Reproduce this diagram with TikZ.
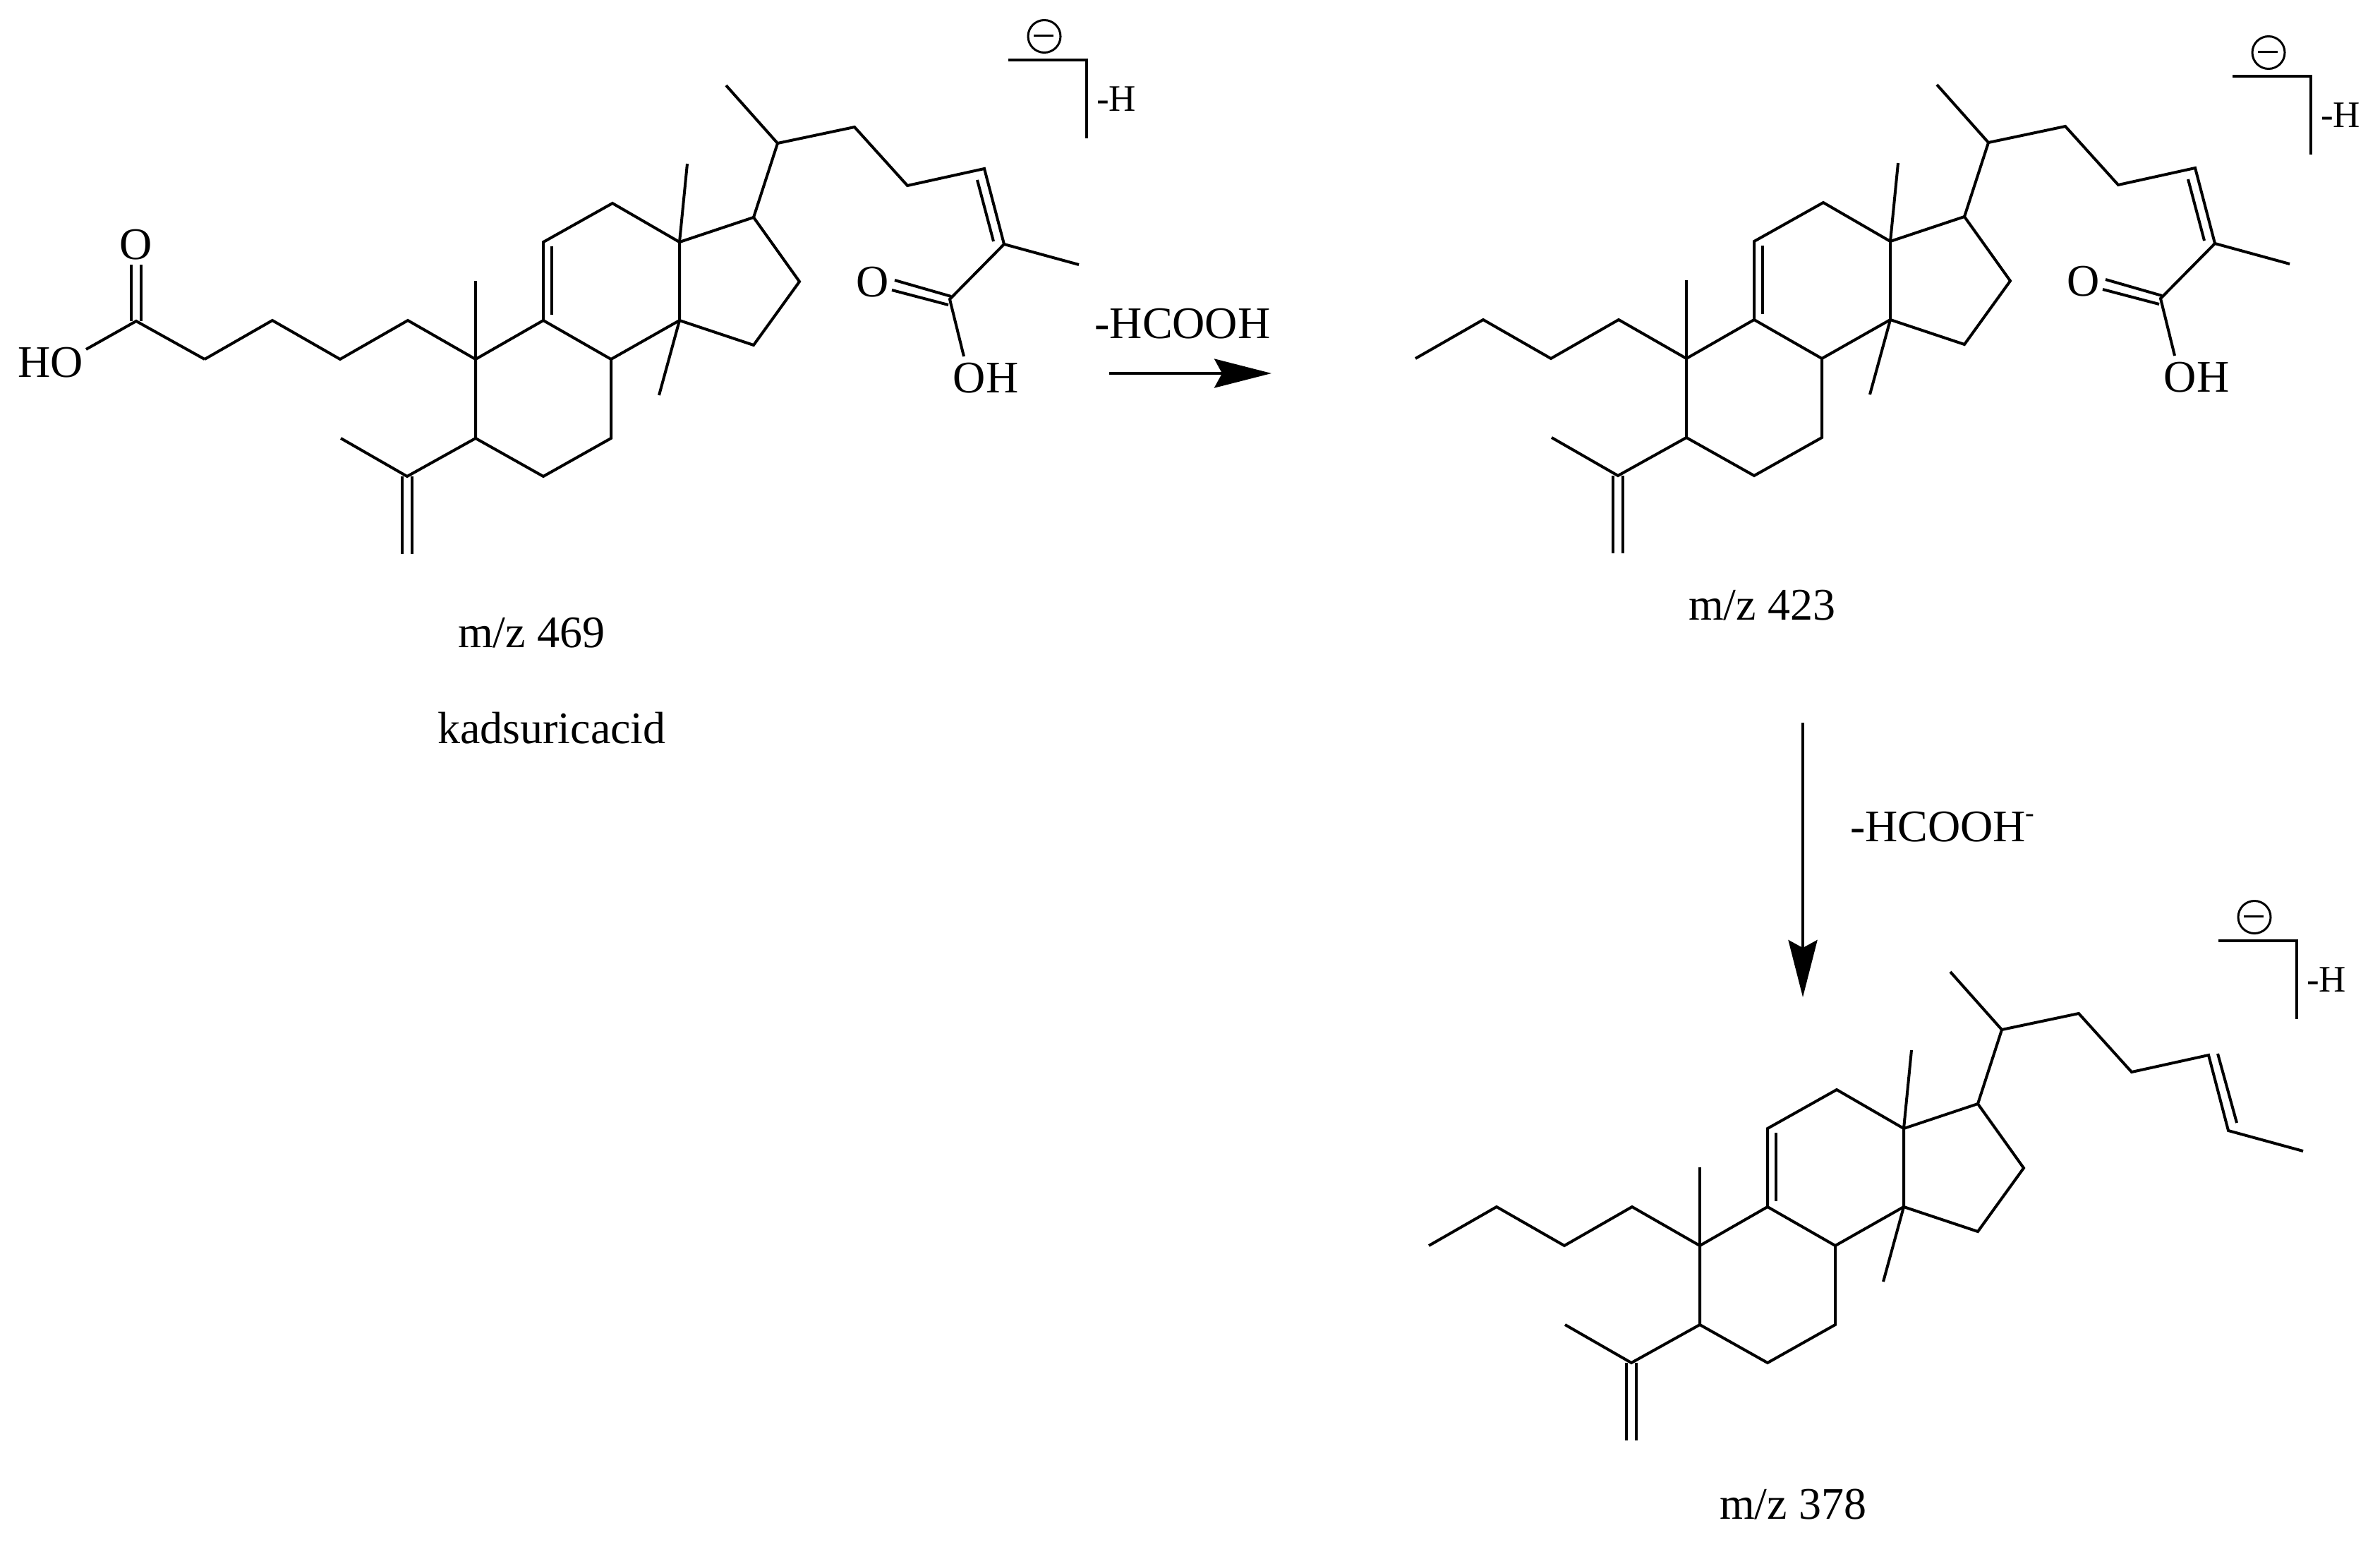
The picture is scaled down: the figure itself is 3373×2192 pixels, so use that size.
\documentclass[tikz,border=0pt]{standalone}
\usepackage{fontspec}
\setmainfont{Liberation Serif}
\usetikzlibrary{arrows.meta}
\tikzset{
  x=1pt,y=-1pt,
  bond/.style={line width=4pt,line join=miter,line cap=butt,black},
  heavy/.style={line width=4.4pt,line cap=butt,black},
  thin bond/.style={line width=3pt,black},
  label/.style={inner sep=0pt,outer sep=0pt,anchor=base,black,font=\fontsize{64}{70}\selectfont},
  small label/.style={label,font=\fontsize{53}{58}\selectfont},
  reaction/.style={line width=4pt,line cap=butt,black,-{Stealth[length=81pt,width=41pt,inset=11pt]}}
}
% carbon skeleton shared by all three structures
\newcommand{\skeleton}[1]{%
  \coordinate (#1a) at (290,509); \coordinate (#1b) at (386,454);
  \coordinate (#1c) at (482,509); \coordinate (#1d) at (578,454);
  \coordinate (#1q) at (674,509); \coordinate (#1qm) at (674,398);
  \coordinate (#1e) at (770,454); \coordinate (#1f) at (770,343);
  \coordinate (#1fa) at (782,349); \coordinate (#1fb) at (782,446);
  \coordinate (#1g) at (868,288); \coordinate (#1h) at (963,343);
  \coordinate (#1hm) at (974,232); \coordinate (#1i) at (963,454);
  \coordinate (#1im) at (934,560); \coordinate (#1j) at (866,509);
  \coordinate (#1k) at (866,621); \coordinate (#1l) at (770,675);
  \coordinate (#1m) at (674,621); \coordinate (#1n) at (577,675);
  \coordinate (#1nm) at (483,621);
  \coordinate (#1na) at (570,675); \coordinate (#1nb) at (584,675);
  \coordinate (#1ne) at (570,785); \coordinate (#1nf) at (584,785);
  \coordinate (#1o) at (1068,308); \coordinate (#1p) at (1133,399);
  \coordinate (#1r) at (1068,489); \coordinate (#1s) at (1102,203);
  \coordinate (#1sm) at (1029,121); \coordinate (#1t) at (1211,180);
  \coordinate (#1u) at (1286,263); \coordinate (#1v) at (1395,239);
  \coordinate (#1w) at (1423,346); \coordinate (#1wm) at (1529,375);
  \draw[bond] (#1a) -- (#1b) -- (#1c) -- (#1d) -- (#1q) -- (#1e) -- (#1f) -- (#1g) -- (#1h) -- (#1i) -- (#1j) -- (#1k) -- (#1l) -- (#1m) -- (#1q);
  \draw[bond] (#1e) -- (#1j);
  \draw[bond] (#1fa) -- (#1fb);
  \draw[bond] (#1q) -- (#1qm);
  \draw[bond] (#1h) -- (#1hm);
  \draw[bond] (#1i) -- (#1im);
  \draw[bond] (#1m) -- (#1n) -- (#1nm);
  \draw[bond] (#1na) -- (#1ne);
  \draw[bond] (#1nb) -- (#1nf);
  \draw[bond] (#1h) -- (#1o) -- (#1p) -- (#1r) -- (#1i);
  \draw[bond] (#1o) -- (#1s) -- (#1sm);
  \draw[bond] (#1s) -- (#1t) -- (#1u) -- (#1v) -- (#1w) -- (#1wm);
}
% side-chain carboxylic acid
\newcommand{\acid}[1]{%
  \coordinate (#1da) at (1385,255); \coordinate (#1db) at (1408,342);
  \coordinate (#1x) at (1346,424);
  \coordinate (#1xa) at (1348,420); \coordinate (#1xb) at (1344,432);
  \coordinate (#1oa) at (1268,397); \coordinate (#1ob) at (1264,411);
  \coordinate (#1oh) at (1366,505);
  \draw[bond] (#1da) -- (#1db);
  \draw[bond] (#1w) -- (#1x) -- (#1oh);
  \draw[bond] (#1oa) -- (#1xa);
  \draw[bond] (#1ob) -- (#1xb);
  \node[label] (#1olabel) at (1237,420) {O};
  \node[label] (#1ohlabel) at (1397,556) {OH};
}
% bracket with charge, placed by its upper right corner
\newcommand{\anion}[2]{%
  \begin{scope}[shift={#2}]
    \coordinate (#1bl) at (-111,0); \coordinate (#1br) at (0,0);
    \coordinate (#1be) at (0,111);
    \coordinate (#1ma) at (-75,-34.5); \coordinate (#1mb) at (-47,-34.5);
    \draw[heavy] (#1bl) -- (#1br);
    \draw[bond] ([yshift=2.2pt]#1br) -- (#1be);
    \node[draw,circle,minimum size=46pt,inner sep=0pt,line width=3pt,black] (#1circ) at (-60,-33.5) {};
    \draw[thin bond] (#1ma) -- (#1mb);
    \node[small label] (#1hl) at (42,72) {-H};
  \end{scope}
}
\begin{document}
\begin{tikzpicture}
\useasboundingbox (0,0) rectangle (3373,2192);

% --- structure 1: kadsuricacid
\skeleton{A}
\acid{A}
\coordinate (Acooh) at (193,455);
\coordinate (Ada1) at (186,375); \coordinate (Ada2) at (186,455);
\coordinate (Adb1) at (200,375); \coordinate (Adb2) at (200,455);
\coordinate (Aho) at (122,495);
\draw[bond] (Aa) -- (Acooh) -- (Aho);
\draw[bond] (Ada1) -- (Ada2);
\draw[bond] (Adb1) -- (Adb2);
\node[label] (Aolabel2) at (193,367) {O};
\node[label] (Aholabel) at (72,534) {HO};
\anion{A}{(1540,85)}
\node[label] (mz469) at (753,917) {m/z 469};
\node[label] (kads) at (782,1053) {kadsuricacid};

% --- first step
\coordinate (r1s) at (1572,529); \coordinate (r1e) at (1802,529);
\draw[reaction] (r1s) -- (r1e);
\node[label] (r1l) at (1676,479) {-HCOOH};

% --- structure 2
\begin{scope}[shift={(1716,-1)}]
\skeleton{B}
\acid{B}
\end{scope}
\anion{B}{(3275,108)}
\node[label] (mz423) at (2497,878) {m/z 423};

% --- second step
\coordinate (r2s) at (2555,1024); \coordinate (r2e) at (2555,1413);
\draw[reaction] (r2s) -- (r2e);
\node[label,anchor=base west] (r2l) at (2622,1192) {-HCOOH\raisebox{28pt}{\fontsize{38}{38}\selectfont -}};

% --- structure 3
\begin{scope}[shift={(1735,1256)}]
\skeleton{C}
\coordinate (Cda) at (1408,237); \coordinate (Cdb) at (1435,335);
\draw[bond] (Cda) -- (Cdb);
\end{scope}
\anion{C}{(3255,1333)}
\node[label] (mz378) at (2541,2152) {m/z 378};
\end{tikzpicture}
\end{document}
